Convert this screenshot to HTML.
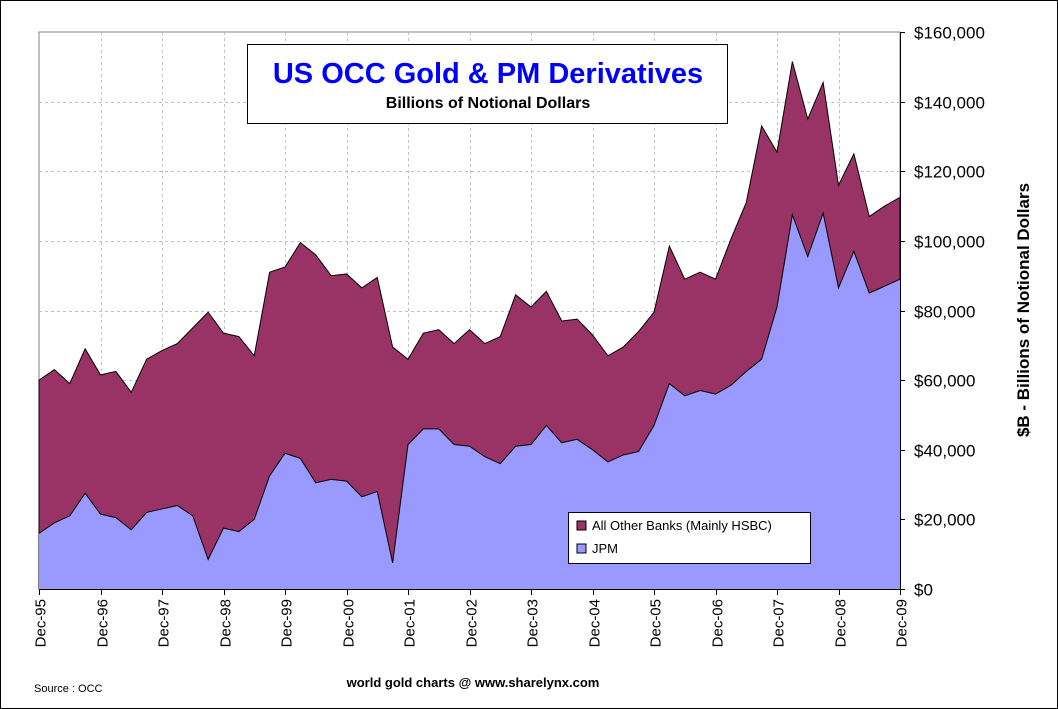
<!DOCTYPE html>
<html><head><meta charset="utf-8"><style>
body{margin:0;background:#fff;}
svg{display:block;font-family:"Liberation Sans",Arial,sans-serif;}
</style></head><body>
<svg id="chart" width="1058" height="709" viewBox="0 0 1058 709">
<rect x="0.5" y="0.5" width="1057" height="708" fill="#fff" stroke="#000"/>
<g id="grid"></g>
<g id="areas"></g>
<g id="axes"></g>
<g>
<rect x="247.5" y="44.5" width="480" height="79" fill="#fff" stroke="#000"/>
<text x="488" y="83" text-anchor="middle" font-size="29" font-weight="bold" fill="#0000ff">US OCC Gold &amp; PM Derivatives</text>
<text x="488" y="108" text-anchor="middle" font-size="16" font-weight="bold" fill="#000">Billions of Notional Dollars</text>
</g>
<g>
<rect x="568.5" y="512.5" width="242" height="51" fill="#fff" stroke="#000"/>
<g><rect x="577" y="521" width="9" height="9" fill="#993366" stroke="#000"/><text x="592" y="530" font-size="13">All Other Banks (Mainly HSBC)</text></g>
<g><rect x="577" y="544" width="9" height="9" fill="#9999ff" stroke="#000"/><text x="592" y="553" font-size="13">JPM</text></g>
</g>
<text transform="translate(1029,310) rotate(-90)" text-anchor="middle" font-size="17" font-weight="bold">$B - Billions of Notional Dollars</text>
<text x="34" y="692" font-size="11">Source : OCC</text>
<text x="473" y="687" text-anchor="middle" font-size="13" font-weight="bold">world gold charts @ www.sharelynx.com</text>
</svg>
<script>
const quarterLabels = ["Dec-95","Dec-96","Dec-97","Dec-98","Dec-99","Dec-00","Dec-01","Dec-02","Dec-03","Dec-04","Dec-05","Dec-06","Dec-07","Dec-08","Dec-09"];
const totalValues = [60,63,59,69,61.5,62.5,56.5,66,68.5,70.5,75,79.5,73.5,72.5,67,91,92.5,99.5,96,90,90.5,86.5,89.5,69.5,66,73.5,74.5,70.5,74.5,70.5,72.5,84.5,81,85.5,77,77.5,73,67,69.5,74,79.5,98.5,89,91,89,100.5,111,133,125.5,151.5,135,145.5,116,125,107,110,112.5];
const jpmValues = [16,19,21,27.5,21.5,20.5,17,22,23,24,21,8.5,17.5,16.5,20,32.5,39,37.5,30.5,31.5,31,26.5,28,7.5,41.5,46,46,41.5,41,38,36,41,41.5,47,42,43,40,36.5,38.5,39.5,47,59,55.5,57,56,58.5,62.5,66,81,107.5,95.5,108,86.5,97,85,87,89];
const yTicks = [0,20,40,60,80,100,120,140,160];
const yTickLabels = ["$0","$20,000","$40,000","$60,000","$80,000","$100,000","$120,000","$140,000","$160,000"];

const NS="http://www.w3.org/2000/svg";
const X0=39,X1=900,Y0=589,Y1=32,YMAX=160;
const n=totalValues.length;
const xs=i=>X0+(X1-X0)*i/(n-1);
const ys=v=>Y0-(Y0-Y1)*v/YMAX;
function mk(tag,attrs,parent){const e=document.createElementNS(NS,tag);for(const k in attrs)e.setAttribute(k,attrs[k]);parent.appendChild(e);return e;}
const gridG=document.getElementById('grid'),areaG=document.getElementById('areas'),axisG=document.getElementById('axes');
mk('rect',{x:X0,y:Y1,width:X1-X0,height:Y0-Y1,fill:'#fff',stroke:'#808080'},gridG);
yTicks.forEach((t,i)=>{
  const y=Math.round(ys(t))+0.5;
  if(t>0&&t<YMAX){const l=mk('line',{x1:X0,x2:X1,y1:y,y2:y,stroke:'#c0c0c0','stroke-dasharray':'3,3'},gridG);
  
  }
  mk('line',{x1:X1,x2:X1+5,y1:y,y2:y,stroke:'#000'},axisG);
  const tx=mk('text',{x:914,y:y+6,'text-anchor':'start','font-size':'17'},axisG);
  tx.textContent=yTickLabels[i];
  
  
});
quarterLabels.forEach((lab,k)=>{
  const x=Math.round(xs(k*4))+0.5;
  if(k>0&&k<quarterLabels.length-1){const l=mk('line',{x1:x,x2:x,y1:Y1,y2:Y0,stroke:'#c0c0c0','stroke-dasharray':'3,3'},gridG);
  
  }
  mk('line',{x1:x,x2:x,y1:Y0,y2:Y0+6,stroke:'#000'},axisG);
  const tx=mk('text',{transform:`translate(${x+6},${Y0+10}) rotate(-90)`,'text-anchor':'end','font-size':'15'},axisG);
  tx.textContent=lab;
  
  
});
let topPath='',jpPath='';
for(let i=0;i<n;i++){topPath+=`L${xs(i)},${ys(totalValues[i])}`;jpPath+=`L${xs(i)},${ys(jpmValues[i])}`;}
const a1=mk('path',{d:`M${X0},${Y0}${topPath}L${X1},${Y0}Z`,fill:'#993366',stroke:'#000','stroke-width':1},areaG);


const a2=mk('path',{d:`M${X0},${Y0}${jpPath}L${X1},${Y0}Z`,fill:'#9999ff',stroke:'none'},areaG);


mk('path',{d:'M'+jpPath.slice(1),fill:'none',stroke:'#000','stroke-width':1},areaG);
mk('line',{x1:X0,x2:X1,y1:Y0+0.5,y2:Y0+0.5,stroke:'#000'},axisG);
mk('line',{x1:X1+0.5,x2:X1+0.5,y1:Y1,y2:Y0,stroke:'#000'},axisG);
</script>
</body></html>
